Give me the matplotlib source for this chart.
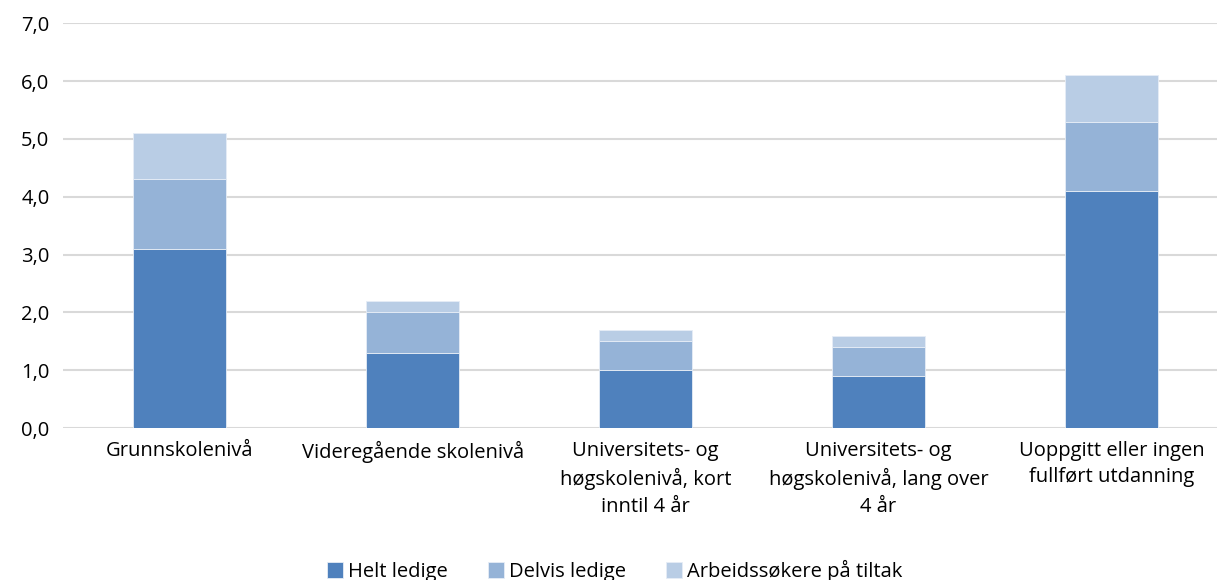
import numpy as np
import matplotlib.pyplot as plt
from matplotlib.ticker import FuncFormatter

plt.rcParams['font.family'] = ['Open Sans', 'DejaVu Sans']

# Data
categories = [
    'Grunnskolenivå',
    'Videregående skolenivå',
    'Universitets- og\nhøgskolenivå, kort\ninntil 4 år',
    'Universitets- og\nhøgskolenivå, lang over\n4 år',
    'Uoppgitt eller ingen\nfullført utdanning',
]
helt_ledige = [3.1, 1.3, 1.0, 0.9, 4.1]
delvis_ledige = [1.2, 0.7, 0.5, 0.5, 1.2]
tiltak = [0.8, 0.2, 0.2, 0.2, 0.8]
series_names = ['Helt ledige', 'Delvis ledige', 'Arbeidssøkere på tiltak']
colors = ['#4F81BD', '#95B3D7', '#B9CDE5']

fig = plt.figure(figsize=(12.17, 5.8), dpi=100)
ax = fig.add_axes([0.052, 0.262, 0.957, 0.698])

x = np.arange(len(categories))
bottom = np.zeros(len(categories))
for vals, name, col in zip([helt_ledige, delvis_ledige, tiltak], series_names, colors):
    ax.bar(x, vals, width=0.4, bottom=bottom, color=col, label=name,
           edgecolor='#E6EDF6', linewidth=0.6, zorder=3)
    bottom += np.array(vals)

ax.set_xlim(-0.5, 4.5)
ax.set_ylim(0, 7)
ax.set_yticks(np.arange(0, 7.1, 1))
ax.yaxis.set_major_formatter(FuncFormatter(lambda v, p: f'{v:.1f}'.replace('.', ',')))
ax.grid(axis='y', color='#D9D9D9', linewidth=1.5, zorder=0)
for s in ax.spines.values():
    s.set_visible(False)
ax.tick_params(axis='both', length=0, labelsize=14.5, colors='black')
ax.tick_params(axis='y', pad=10)
ax.tick_params(axis='x', pad=9)
ax.set_xticks(x)
ax.set_xticklabels(categories, linespacing=1.45)

fig.legend(loc='lower center', bbox_to_anchor=(0.505, -0.035), ncol=3, frameon=False,
           fontsize=14.5, handlelength=0.8, handleheight=0.8, handletextpad=0.25,
           columnspacing=2.0)

fig.savefig('out.png', dpi=100)
